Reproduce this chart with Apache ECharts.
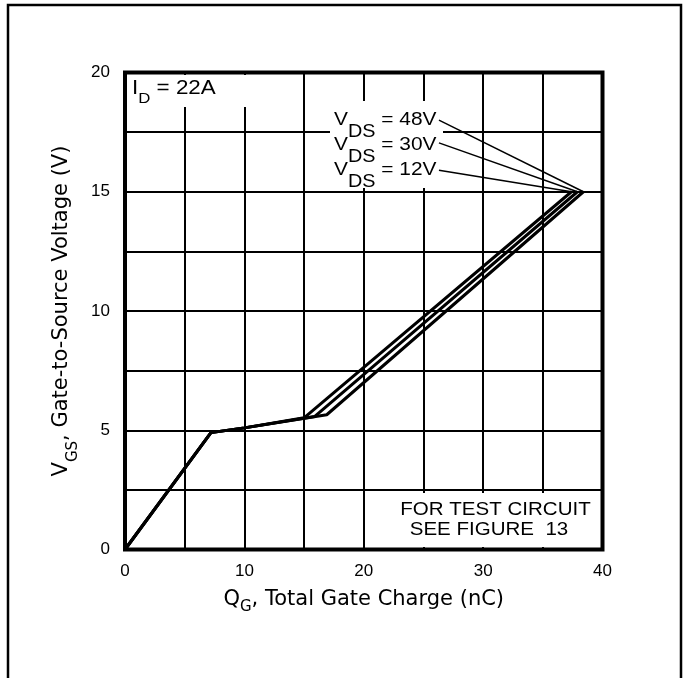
<!DOCTYPE html>
<html><head><meta charset="utf-8">
<script src="https://cdn.jsdelivr.net/npm/echarts@6/dist/echarts.min.js"></script>
<style>html,body{margin:0;padding:0;background:#fff}#c{width:683px;height:678px}</style>
</head><body><div id="c"></div>
<script>
// ---- data ----
const xTickLabels = [0, 10, 20, 30, 40];
const yTickLabels = [0, 5, 10, 15, 20];
const qg12 = [0, 7.2, 10, 15.0, 37.4];
const vgs12 = [0, 4.9, 5.1, 5.52, 15.0];
const qg30 = [0, 7.2, 10, 15.9, 37.9];
const vgs30 = [0, 4.9, 5.1, 5.58, 15.0];
const qg48 = [0, 7.2, 10, 16.9, 38.4];
const vgs48 = [0, 4.9, 5.1, 5.65, 15.0];
const vdsLabels = ['48V', '30V', '12V'];
const leaderFromQ = [26.3, 26.3, 26.3];
const leaderFromV = [18.0, 17.05, 15.9];
const leaderToQ = [38.4, 37.9, 37.4];
const leaderToV = [15.0, 15.0, 15.0];

const SANS = 'Liberation Sans, Arial, sans-serif';
const WIDE = 'DejaVu Sans, sans-serif';
const chart = echarts.init(document.getElementById('c'), null, {renderer: 'canvas'});

function pairs(xs, ys) { return xs.map((x, i) => [x, ys[i]]); }
const curveStyle = {color: '#000', width: 3};

const series = [
  {type: 'line', data: pairs(qg12, vgs12), symbol: 'none', lineStyle: curveStyle, z: 3},
  {type: 'line', data: pairs(qg30, vgs30), symbol: 'none', lineStyle: curveStyle, z: 3},
  {type: 'line', data: pairs(qg48, vgs48), symbol: 'none', lineStyle: curveStyle, z: 3}
];
vdsLabels.forEach((l, i) => {
  series.push({type: 'line', name: 'leader ' + l,
    data: [[leaderFromQ[i], leaderFromV[i]], [leaderToQ[i], leaderToV[i]]],
    symbol: 'none', lineStyle: {color: '#000', width: 1.5}, z: 3});
});

const vdsRich = {
  m: {fontSize: 19, lineHeight: 19, verticalAlign: 'top', fontFamily: SANS, color: '#000'},
  s: {fontSize: 18, lineHeight: 18, verticalAlign: 'top', padding: [13, 0, 0, 0], fontFamily: SANS, color: '#000'}
};
const graphics = [
  {type: 'polyline', shape: {points: [[8, 678], [8, 5], [681, 5], [681, 678]]},
   style: {stroke: '#000', lineWidth: 2.5, fill: null}, z: 100},
  {type: 'rect', shape: {x: 128, y: 75, width: 162, height: 32}, style: {fill: '#fff'}, z: 1},
  {type: 'rect', shape: {x: 330, y: 101, width: 113, height: 87}, style: {fill: '#fff'}, z: 1},
  {type: 'rect', shape: {x: 385, y: 493, width: 215, height: 54}, style: {fill: '#fff'}, z: 1},
  {type: 'text', x: 132, y: 78, scaleX: 1.12, z: 100,
   style: {text: '{m|I}{s|D}{m| = 22A}', fill: '#000', textVerticalAlign: 'top',
     rich: {
       m: {fontSize: 20, lineHeight: 20, verticalAlign: 'top', fontFamily: SANS, color: '#000'},
       s: {fontSize: 15, lineHeight: 15, verticalAlign: 'top', padding: [13, 0, 0, 0], fontFamily: SANS, color: '#000'}
     }}},
  {type: 'text', x: 495.5, y: 510, scaleX: 1.08, z: 100,
   style: {text: 'FOR TEST CIRCUIT', fill: '#000', font: '19px ' + SANS, textAlign: 'center', textVerticalAlign: 'middle'}},
  {type: 'text', x: 489, y: 530, scaleX: 1.08, z: 100,
   style: {text: 'SEE FIGURE  13', fill: '#000', font: '19px ' + SANS, textAlign: 'center', textVerticalAlign: 'middle'}}
];
const vdsTops = [110, 135.5, 160];
vdsLabels.forEach((l, i) => {
  graphics.push({type: 'text', x: 334, y: vdsTops[i], scaleX: 1.1, z: 100,
    style: {text: '{m|V}{s|DS}{m| = ' + l + '}', fill: '#000', textVerticalAlign: 'top', rich: vdsRich}});
});

chart.setOption({
  animation: false,
  backgroundColor: '#fff',
  grid: {left: 125, top: 72.5, right: 80.5, bottom: 128.5, show: true,
         borderColor: '#000', borderWidth: 4, backgroundColor: 'transparent'},
  xAxis: {
    type: 'value', min: 0, max: 40, interval: 5,
    axisLine: {show: false}, axisTick: {show: false},
    splitLine: {show: true, lineStyle: {color: '#000', width: 2}},
    axisLabel: {margin: 13, fontSize: 17, lineHeight: 17, color: '#000', fontFamily: SANS,
      formatter: v => xTickLabels.indexOf(v) >= 0 ? String(v) : ''},
    name: '{m|Q}{s|G}{m|, Total Gate Charge (nC)}',
    nameLocation: 'middle', nameGap: 40,
    nameTextStyle: {color: '#000', rich: {
      m: {fontSize: 21, lineHeight: 22, verticalAlign: 'top', fontFamily: WIDE, color: '#000'},
      s: {fontSize: 15, lineHeight: 16, verticalAlign: 'top', padding: [10, 0, 0, 0], fontFamily: WIDE, color: '#000'}
    }}
  },
  yAxis: {
    type: 'value', min: 0, max: 20, interval: 2.5,
    axisLine: {show: false}, axisTick: {show: false},
    splitLine: {show: true, lineStyle: {color: '#000', width: 2}},
    axisLabel: {margin: 15, fontSize: 17, lineHeight: 17, color: '#000', fontFamily: SANS,
      padding: [7, 0, 0, 0],
      formatter: v => yTickLabels.indexOf(v) >= 0 ? String(v) : ''},
    name: '{m|V}{s|GS}{m|, Gate-to-Source Voltage (V)}',
    nameLocation: 'middle', nameGap: 51,
    nameTextStyle: {color: '#000', rich: {
      m: {fontSize: 21, lineHeight: 22, verticalAlign: 'top', fontFamily: WIDE, color: '#000'},
      s: {fontSize: 15, lineHeight: 16, verticalAlign: 'top', padding: [14, 0, 0, 0], fontFamily: WIDE, color: '#000'}
    }}
  },
  graphic: graphics,
  series: series
});
</script>
</body></html>
